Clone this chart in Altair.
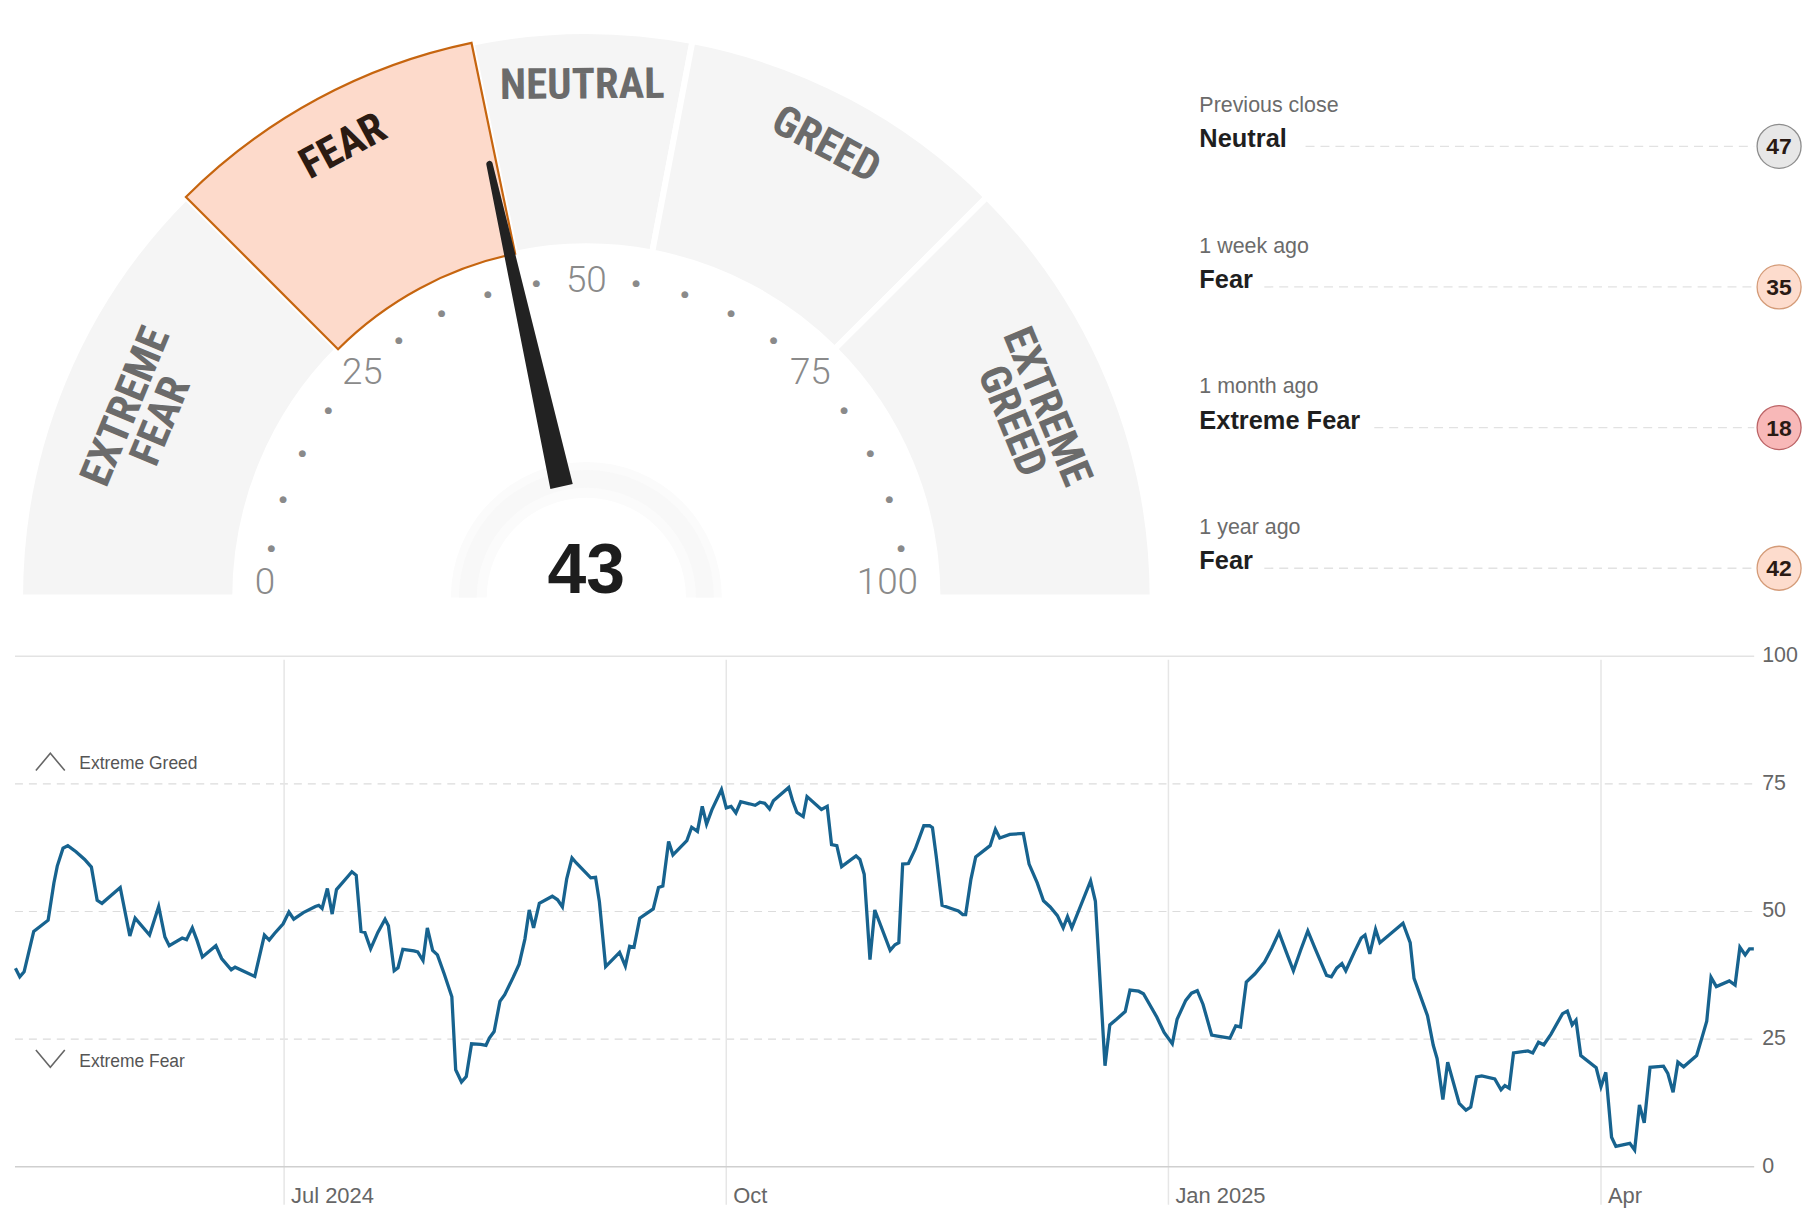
import math
import altair as alt
import pandas as pd

# ---------------------------------------------------------------- data
START = pd.Timestamp("2024-05-06")
DAY_OFFSETS = [
    0.1, 1.0, 1.9, 3.9, 6.9, 8.1, 8.8, 10.0, 11.0, 12.7, 14.5, 15.9, 17.1, 18.1, 21.9, 23.9, 25.0, 28.0, 29.9, 31.2,
    32.1, 34.8, 35.7, 36.9, 37.9, 39.0, 41.8, 43.0, 45.0, 45.8, 49.9, 51.9, 52.9, 54.0, 55.8, 57.0, 58.0, 60.0, 62.5, 63.2,
    63.9, 65.0, 66.0, 66.9, 69.3, 70.1, 71.0, 72.0, 72.8, 74.0, 75.5, 77.0, 77.7, 78.9, 79.7, 80.7, 83.0, 83.8, 84.9, 85.8,
    86.9, 87.9, 89.3, 90.9, 91.7, 92.9, 93.9, 95.0, 96.9, 98.0, 98.7, 99.7, 100.9, 101.9, 103.7, 104.9, 106.1, 107.0, 107.9, 109.1,
    111.8, 112.9, 113.9, 114.8, 115.9, 116.8, 119.8, 120.8, 121.6, 122.9, 125.8, 127.0, 127.9, 128.8, 130.0, 132.8, 133.9, 134.8, 136.0, 136.9,
    139.8, 140.8, 142.0, 143.0, 143.9, 145.0, 147.0, 148.0, 149.0, 150.0, 151.0, 152.8, 154.0, 155.0, 156.0, 157.0, 157.8, 161.0, 161.8, 162.7,
    164.0, 164.8, 167.8, 169.0, 169.9, 171.0, 172.0, 175.0, 175.8, 176.7, 177.9, 178.9, 182.1, 183.1, 183.9, 184.7, 185.9, 187.3, 189.1, 190.3,
    190.9, 191.7, 192.9, 195.1, 196.3, 197.2, 197.8, 198.9, 199.9, 202.9, 204.0, 204.9, 207.0, 209.8, 211.0, 212.7, 214.0, 215.4, 216.9, 218.1,
    219.0, 219.9, 223.8, 224.8, 226.8, 227.8, 229.2, 231.0, 232.0, 233.8, 234.8, 237.6, 239.1, 240.8, 241.8, 243.6, 244.8, 246.0, 247.2, 249.0,
    250.2, 252.8, 254.0, 255.0, 256.2, 258.0, 260.0, 261.5, 263.0, 264.5, 266.0, 267.5, 269.0, 270.5, 272.9, 273.9, 275.0, 276.1, 276.9, 278.7,
    280.1, 280.9, 281.9, 283.1, 284.0, 288.8, 290.3, 291.1, 293.9, 295.1, 295.9, 297.1, 298.1, 300.5, 301.9, 302.9, 304.1, 305.2, 307.9, 309.2,
    310.0, 310.9, 311.8, 314.8, 315.8, 317.0, 318.1, 319.6, 322.0, 323.0, 324.0, 324.8, 325.8, 329.0, 330.0, 331.0, 332.2, 333.1, 336.0, 337.0,
    338.0, 339.0, 340.2, 343.0, 343.9, 345.0, 346.0, 347.2, 349.9, 351.1, 352.0, 352.9, 354.0, 356.7, 357.9, 358.9, 360.0, 360.9, 361.8,
]
FG_VALUES = [
    38.9, 37.2, 38.2, 46.1, 48.3, 55.6, 58.9, 62.4, 62.9, 61.7, 60.2, 58.7, 52.2, 51.6, 54.7, 45.2, 48.7, 45.4, 51.0, 45.0,
    43.3, 44.8, 44.5, 46.8, 44.3, 41.1, 43.3, 40.8, 38.6, 39.1, 37.3, 45.4, 44.4, 45.7, 47.6, 49.9, 48.5, 49.8, 51.0, 51.2,
    50.6, 54.5, 49.5, 54.3, 56.9, 57.8, 57.1, 46.1, 45.9, 42.7, 45.9, 48.5, 47.2, 38.4, 39.0, 42.6, 42.3, 42.1, 40.4, 46.8,
    42.4, 41.5, 37.8, 33.3, 19.0, 16.6, 17.7, 24.1, 24.0, 23.8, 25.2, 26.5, 32.4, 33.7, 37.2, 39.7, 44.6, 50.3, 46.8, 51.6,
    53.0, 52.3, 50.9, 56.4, 60.5, 59.5, 56.6, 56.7, 51.9, 39.2, 42.0, 39.3, 43.2, 43.0, 48.7, 50.5, 54.7, 55.0, 63.7, 61.1,
    63.9, 66.5, 65.7, 70.6, 67.1, 69.9, 73.9, 70.3, 70.6, 69.3, 71.5, 71.1, 70.8, 71.4, 71.2, 70.1, 71.7, 74.3, 71.7, 69.4,
    68.6, 72.5, 70.0, 70.6, 63.1, 62.9, 58.8, 60.9, 60.2, 57.3, 40.6, 50.3, 42.4, 43.5, 43.9, 59.3, 59.4, 62.2, 66.8, 66.8,
    66.4, 60.7, 51.2, 50.5, 50.1, 49.4, 49.4, 56.3, 60.7, 62.9, 66.1, 64.4, 65.1, 65.3, 59.3, 55.6, 52.1, 50.9, 49.2, 46.8,
    49.0, 46.8, 56.0, 52.0, 19.8, 27.8, 28.9, 30.4, 34.6, 34.4, 33.9, 29.3, 26.3, 24.1, 28.9, 32.6, 34.0, 34.5, 31.8, 25.8,
    25.6, 25.2, 27.6, 27.4, 36.2, 37.8, 40.1, 42.8, 45.9, 42.1, 38.4, 42.4, 46.2, 42.8, 37.5, 37.2, 38.9, 39.8, 38.4, 42.1,
    44.8, 45.4, 41.7, 46.5, 43.9, 47.7, 43.9, 36.9, 29.6, 23.8, 21.2, 13.2, 20.5, 12.4, 11.1, 11.7, 17.6, 17.8, 17.2, 15.1,
    15.9, 15.4, 22.3, 22.7, 22.3, 24.4, 23.9, 26.0, 30.0, 30.5, 27.8, 28.7, 21.8, 19.4, 15.7, 18.5, 5.8, 4.0, 4.6, 3.3,
    12.1, 8.6, 19.5, 19.7, 18.3, 14.6, 20.5, 19.6, 21.8, 25.6, 28.5, 37.1, 35.3, 36.4, 35.6, 43.0, 41.5, 42.7, 42.7,
]

TICK_DATES = ["2024-07-01", "2024-10-01", "2025-01-01", "2025-04-01"]
TICK_LABELS = ["Jul 2024", "Oct", "Jan 2025", "Apr"]
Y_TICKS = [0, 25, 50, 75, 100]
ZONE_LABELS = ["Extreme Greed", "Extreme Fear"]
ZONE_LINES = [75, 25]

CURRENT = 43
SEG_NAMES = ["EXTREME\nFEAR", "FEAR", "NEUTRAL", "GREED", "EXTREME\nGREED"]
SEG_BOUNDS = [0, 25, 43.5, 56, 75, 100]
GAUGE_LABELS = [0, 25, 50, 75, 100]
GAUGE_DOTS = [5, 10, 15, 20, 30, 35, 40, 45, 55, 60, 65, 70, 80, 85, 90, 95]

PANEL_LABELS = ["Previous close", "1 week ago", "1 month ago", "1 year ago"]
PANEL_RATINGS = ["Neutral", "Fear", "Extreme Fear", "Fear"]
PANEL_VALUES = [47, 35, 18, 42]

# ---------------------------------------------------------------- styles / layout
W, H = 1752, 1161
X_RANGE = [6, 1752.6]
Y_RANGE = [1161, 648.4]
CX, CY = 579.6, 589.4
R_OUT, R_IN = 568.5, 352.5
LINE_COLOR = "#17638f"
FONT = "Liberation Sans, Arial, sans-serif"
GAUGE_FONT = "Liberation Sans Narrow, Roboto Condensed, Roboto, sans-serif"
NUM_FONT = "Roboto, Liberation Sans, sans-serif"
RATING_FILL = {"Neutral": "#e7e7e7", "Fear": "#fddccd", "Extreme Fear": "#f8b8b8",
               "Greed": "#cfe8d6", "Extreme Greed": "#a9dab8"}
RATING_STROKE = {"Neutral": "#8d8d8d", "Fear": "#d49b78", "Extreme Fear": "#bb6466",
                 "Greed": "#5b9a6e", "Extreme Greed": "#3f8a57"}
NEEDLE_PATH = ("M -0.0256 -0.254 L -0.0071 -0.993 A 0.0071 0.0071 0 0 1 0.0071 -0.993 "
               "L 0.0256 -0.254 Z")
R_TIP = 449

# ---------------------------------------------------------------- tables
dates = [(START + pd.Timedelta(days=d)).strftime("%Y-%m-%dT%H:%M:%S") for d in DAY_OFFSETS]
line_df = pd.DataFrame({"date": dates, "value": FG_VALUES})
tick_df = pd.DataFrame({"d": [d + "T00:00:00" for d in TICK_DATES], "label": TICK_LABELS})
grid_df = pd.DataFrame({"v": Y_TICKS})

seg_df = pd.DataFrame({"name": SEG_NAMES, "start": SEG_BOUNDS[:-1], "end": SEG_BOUNDS[1:]})
seg_df["mid"] = (seg_df["start"] + seg_df["end"]) / 2
seg_df["active"] = ((seg_df["start"] <= CURRENT) & (CURRENT < seg_df["end"])).astype(int)
seg_df["lines"] = seg_df["name"].str.count("\n") + 1

panel_df = pd.DataFrame({"i": list(range(len(PANEL_LABELS))), "label": PANEL_LABELS,
                         "rating": PANEL_RATINGS, "value": PANEL_VALUES})
panel_df["fill"] = panel_df["rating"].map(RATING_FILL)
panel_df["stroke"] = panel_df["rating"].map(RATING_STROKE)

x_scale = alt.Scale(domain=[alt.DateTime(year=2024, month=5, date=6),
                            alt.DateTime(year=2025, month=5, date=3)], range=X_RANGE)
y_scale = alt.Scale(domain=[0, 100], range=Y_RANGE)
th_scale = alt.Scale(domain=[0, 100], range=[1.5 * math.pi, 2.5 * math.pi])

CXv, CYv = alt.value(CX), alt.value(CY)

# ---------------------------------------------------------------- line chart
def yq(field):
    return alt.Y(field, type="quantitative", scale=y_scale, axis=None)

grid_dashed = alt.Chart(grid_df).transform_filter("datum.v > 0 && datum.v < 100").mark_rule(
    color="#dcdcdc", strokeWidth=1.2, strokeDash=[8, 6]).encode(
    y=yq("v"), x=alt.value(6), x2=alt.value(W))
grid_top = alt.Chart(grid_df).transform_filter("datum.v == 100").mark_rule(
    color="#e3e3e3", strokeWidth=1.4).encode(y=yq("v"), x=alt.value(6), x2=alt.value(W))
grid_base = alt.Chart(grid_df).transform_filter("datum.v == 0").mark_rule(
    color="#cfcfcf", strokeWidth=1.6).encode(y=yq("v"), x=alt.value(6), x2=alt.value(W))

vrules = alt.Chart(tick_df).mark_rule(color="#e6e6e6", strokeWidth=1.5).encode(
    x=alt.X("d:T", scale=x_scale, axis=None), y=alt.value(652), y2=alt.value(1199))
x_labels = alt.Chart(tick_df).mark_text(
    align="left", baseline="middle", dx=7, font=FONT, fontSize=22, color="#666666").encode(
    x=alt.X("d:T", scale=x_scale, axis=None), y=alt.value(1190), text="label:N")
y_labels = alt.Chart(grid_df).mark_text(
    align="left", baseline="middle", font=FONT, fontSize=21.5, color="#666666").encode(
    x=alt.value(1760), y=yq("v"), text=alt.Text("v:Q", format="d"))

line = alt.Chart(line_df).mark_line(color=LINE_COLOR, strokeWidth=3.3, strokeJoin="miter").encode(
    x=alt.X("date:T", scale=x_scale, axis=None), y=yq("value"))

zone_layers = []
for lab, yv, up in zip(ZONE_LABELS, ZONE_LINES, [True, False]):
    zdf = pd.DataFrame({"label": [lab], "y": [yv]})
    path = "M -1 0.6 L 0 -0.6 L 1 0.6" if up else "M -1 -0.6 L 0 0.6 L 1 -0.6"
    shift_mark = "datum.y + 4.3" if up else "datum.y - 3.8"
    shift_text = "datum.y + 3.8" if up else "datum.y - 4.5"
    zbase = alt.Chart(zdf).transform_calculate(ym=shift_mark, yt=shift_text)
    zone_layers.append(zbase.mark_point(
        shape=path, filled=False, size=841, stroke="#666666", strokeWidth=1.6, opacity=1).encode(
        x=alt.value(41.5), y=yq("ym")))
    zone_layers.append(zbase.mark_text(
        align="left", baseline="middle", font=FONT, fontSize=17.5, color="#555555").encode(
        x=alt.value(70.6), y=yq("yt"), text="label:N"))

# ---------------------------------------------------------------- gauge
theta_start = alt.Theta("start:Q", scale=th_scale, stack=False)
seg_bg = alt.Chart(seg_df).mark_arc(
    fill="#f5f5f5", stroke="white", strokeWidth=6, radius=R_OUT, radius2=R_IN).encode(
    theta=theta_start, theta2="end:Q", x=CXv, y=CYv)
seg_active = alt.Chart(seg_df).transform_filter("datum.active == 1").mark_arc(
    fill="#fddacb", stroke="#c6650f", strokeWidth=2.2, radius=R_OUT, radius2=R_IN).encode(
    theta=theta_start, theta2="end:Q", x=CXv, y=CYv)

seg_text_layers = []
for n_lines, rad in [(1, 514), (2, 500)]:
    seg_text_layers.append(alt.Chart(seg_df).transform_filter(f"datum.lines == {n_lines}").transform_calculate(
        rot="(datum.mid * 1.8 + 270) % 360",
        col="datum.active == 1 ? '#2b1b13' : '#6b6b6b'").mark_text(
        radius=rad, font=GAUGE_FONT, fontSize=43, fontWeight="bold", lineBreak="\n",
        lineHeight=38, align="center", baseline="middle").encode(
        theta=alt.Theta("mid:Q", scale=th_scale, stack=False),
        angle=alt.Angle("rot:Q", scale=None), color=alt.Color("col:N", scale=None),
        text="name:N", x=CXv, y=CYv))

gl_df = pd.DataFrame({"v": GAUGE_LABELS})
gauge_nums_mid = alt.Chart(gl_df).transform_filter("datum.v > 0 && datum.v < 100").mark_text(
    radius=318, font=NUM_FONT, fontWeight=300, fontSize=37, color="#8a8a8a",
    baseline="middle").encode(
    theta=alt.Theta("v:Q", scale=th_scale, stack=False), text=alt.Text("v:Q", format="d"), x=CXv, y=CYv)
gauge_num_lo = alt.Chart(gl_df).transform_filter("datum.v == 0").mark_text(
    radius=333, font=NUM_FONT, fontWeight=300, fontSize=37, color="#8a8a8a",
    baseline="middle", align="left", dy=-14).encode(
    theta=alt.Theta("v:Q", scale=th_scale, stack=False), text=alt.Text("v:Q", format="d"), x=CXv, y=CYv)
gauge_num_hi = alt.Chart(gl_df).transform_filter("datum.v == 100").mark_text(
    radius=333, font=NUM_FONT, fontWeight=300, fontSize=37, color="#8a8a8a",
    baseline="middle", align="right", dy=-14).encode(
    theta=alt.Theta("v:Q", scale=th_scale, stack=False), text=alt.Text("v:Q", format="d"), x=CXv, y=CYv)
gauge_dots = alt.Chart(pd.DataFrame({"v": GAUGE_DOTS})).mark_text(
    text="●", radius=320, font="DejaVu Sans", fontSize=9, color="#8a8a8a",
    baseline="middle").encode(theta=alt.Theta("v:Q", scale=th_scale, stack=False), x=CXv, y=CYv)

hub_df = pd.DataFrame({"a": [0], "b": [100]})
hub_outer = alt.Chart(hub_df).mark_arc(fill="#fbfbfb", radius=136, radius2=100).encode(
    theta=alt.Theta("a:Q", scale=th_scale, stack=False), theta2="b:Q", x=CXv, y=CYv)
hub_inner = alt.Chart(hub_df).mark_arc(fill="#f8f8f8", radius=128, radius2=110).encode(
    theta=alt.Theta("a:Q", scale=th_scale, stack=False), theta2="b:Q", x=CXv, y=CYv)

needle_df = pd.DataFrame({"v": [CURRENT]})
needle = alt.Chart(needle_df).transform_calculate(rot="(datum.v * 1.8 + 270) % 360").mark_point(
    shape=NEEDLE_PATH, filled=True, fill="#222222", strokeWidth=0, opacity=1,
    size=(2 * R_TIP) ** 2).encode(x=CXv, y=CYv, angle=alt.Angle("rot:Q", scale=None))
big_num = alt.Chart(needle_df).mark_text(
    font=FONT, fontSize=70, fontWeight="bold", color="#1d1d1d", baseline="middle").encode(
    x=CXv, y=alt.value(CY - 25), text=alt.Text("v:Q", format="d"))

# ---------------------------------------------------------------- side panel
pbase = alt.Chart(panel_df).transform_calculate(
    ly="96 + datum.i * 141.2", ry="129.5 + datum.i * 141.2", cy="136.5 + datum.i * 141.2",
    x0="1195 + length(datum.rating) * 13.8 + 10")
panel_label = pbase.mark_text(align="left", baseline="middle", font=FONT, fontSize=21.5,
                              color="#6b6b6b").encode(
    x=alt.value(1195), y=alt.Y("ly:Q", scale=None, axis=None), text="label:N")
panel_rating = pbase.mark_text(align="left", baseline="middle", font=FONT, fontSize=25.5,
                               fontWeight="bold", color="#1f1f1f").encode(
    x=alt.value(1195), y=alt.Y("ry:Q", scale=None, axis=None), text="rating:N")
panel_leader = pbase.mark_rule(color="#e2e2e2", strokeWidth=1.3, strokeDash=[9, 6]).encode(
    x=alt.X("x0:Q", scale=None, axis=None), x2=alt.value(1752),
    y=alt.Y("cy:Q", scale=None, axis=None))
panel_circle = pbase.mark_point(shape="circle", filled=True, size=1950, strokeWidth=1.3,
                                opacity=1).encode(
    x=alt.value(1777), y=alt.Y("cy:Q", scale=None, axis=None),
    fill=alt.Fill("fill:N", scale=None), stroke=alt.Stroke("stroke:N", scale=None))
panel_num = pbase.mark_text(align="center", baseline="middle", font=FONT, fontSize=23,
                            fontWeight="bold", color="#2a1a14", dy=1).encode(
    x=alt.value(1777), y=alt.Y("cy:Q", scale=None, axis=None), text=alt.Text("value:Q", format="d"))

# ---------------------------------------------------------------- assemble
chart = alt.layer(
    grid_top, grid_dashed, vrules, grid_base, line, x_labels, y_labels, *zone_layers,
    seg_bg, seg_active, *seg_text_layers, gauge_dots, gauge_nums_mid, gauge_num_lo, gauge_num_hi,
    hub_outer, hub_inner, needle, big_num,
    panel_leader, panel_label, panel_rating, panel_circle, panel_num,
).properties(width=W, height=H, padding=0, background="white").configure_view(strokeWidth=0)

chart.save("out.html", embed_options={"renderer": "svg", "actions": False})
